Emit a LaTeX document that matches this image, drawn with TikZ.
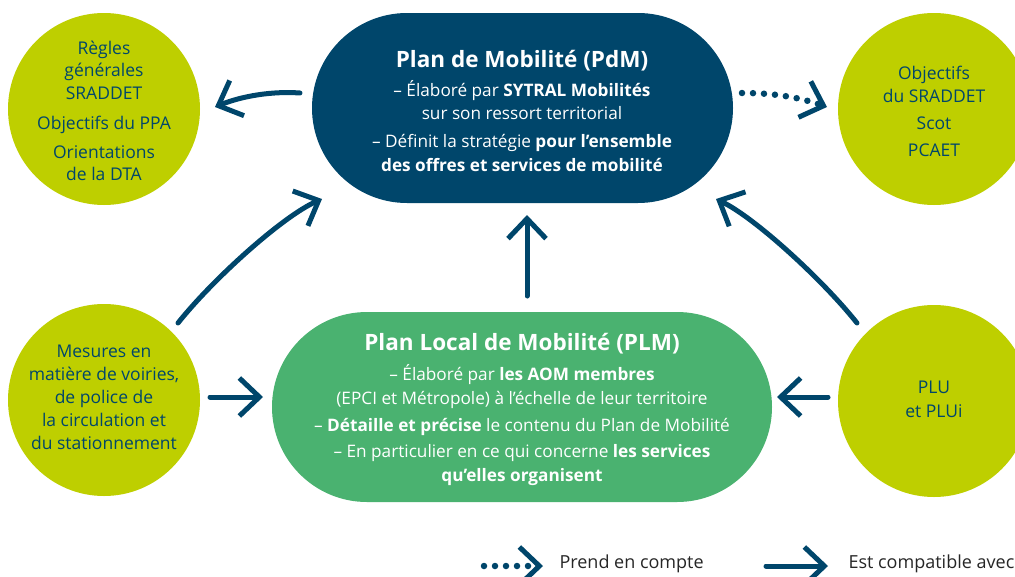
\documentclass[tikz,border=0pt]{standalone}
\usepackage{fontspec}
\setmainfont{Open Sans}
\usetikzlibrary{arrows.meta,shapes.misc}
\definecolor{navy}{RGB}{0,70,107}
\definecolor{lime}{RGB}{190,207,0}
\definecolor{pgreen}{RGB}{74,178,112}
\begin{document}
\begin{tikzpicture}[x=1pt,y=-1pt,
  circ/.style={circle, fill=lime, minimum size=192pt, inner sep=0pt},
  ctext/.style={text=navy, align=center, font=\fontsize{17.5}{22.5}\selectfont},
  pill/.style={rounded rectangle, minimum height=190pt, inner sep=0pt},
  ptext/.style={text=white, align=center, font=\fontsize{17.2}{23.5}\selectfont},
  ttlfont/.style={},
  arr/.style={draw=navy, line width=5pt, line cap=round,
    -{Straight Barb[length=20pt,width=38pt,line width=5pt,line cap=butt,line join=miter]}},
  dotarr/.style={arr, line width=6.5pt, dash pattern=on 0pt off 11pt},
  legtext/.style={anchor=west, text=black!85, font=\fontsize{18}{20}\selectfont}
]
\useasboundingbox (0,0) rectangle (1015,576);
\clip (0,0) rectangle (1015,576);

% shapes
\node[circ] (tl) at (104,109) {};
\node[circ] (tr) at (934,109) {};
\node[circ] (bl) at (104,400) {};
\node[circ] (br) at (934,401) {};
\node[pill, fill=navy, minimum width=421pt] (pdm) at (522.5,108) {};
\node[pill, fill=pgreen, minimum width=500pt] (plm) at (522,407) {};

% circle texts
\node[ctext] (tlt) at (tl.center) [yshift=-2pt] {Règles\\générales\\SRADDET\\[8pt]Objectifs du PPA\\[6pt]Orientations\\de la DTA};
\node[ctext] (trt) at (tr.center) [yshift=-2.5pt] {Objectifs\\du SRADDET\\[4.5pt]Scot\\[4.5pt]PCAET};
\node[ctext, font=\fontsize{17.5}{23}\selectfont] (blt) at (bl.center) [yshift=3pt] {Mesures en\\matière de voiries,\\de police de\\la circulation et\\du stationnement};
\node[ctext, font=\fontsize{17.5}{24}\selectfont] (brt) at (br.center) [yshift=2pt] {PLU\\et PLUi};

% pill texts
\node[ptext] (pdmt) at (522,111) {{\fontsize{22.5}{24}\selectfont\bfseries Plan de Mobilité (PdM)}\\[5pt]
  – Élaboré par \textbf{SYTRAL Mobilités}\\
  sur son ressort territorial\\[4.5pt]
  – Définit la stratégie \textbf{pour l’ensemble}\\
  \textbf{des offres et services de mobilité}};
\node[ptext] (plmt) at (522,409.5) {{\fontsize{22.5}{24}\selectfont\bfseries Plan Local de Mobilité (PLM)}\\[6.5pt]
  – Élaboré par \textbf{les AOM membres}\\
  (EPCI et Métropole) à l’échelle de leur territoire\\[3.5pt]
  – \textbf{Détaille et précise} le contenu du Plan de Mobilité\\[3pt]
  – En particulier en ce qui concerne \textbf{les services}\\
  \textbf{qu’elles organisent}};

% connector end points
\coordinate (a1s) at (300,93);   \coordinate (a1e) at (215,107);
\coordinate (a2s) at (742,93);   \coordinate (a2e) at (827,107);
\coordinate (a3s) at (178,323);  \coordinate (a3e) at (322,199);
\coordinate (a4s) at (857,323);  \coordinate (a4e) at (716,199);
\coordinate (a5s) at (527,296);  \coordinate (a5e) at (527,215);
\coordinate (a6s) at (210,397);  \coordinate (a6e) at (263,397);
\coordinate (a7s) at (828,397);  \coordinate (a7e) at (777,397);

% connectors
\draw[arr] (a1s) .. controls (272,91) and (242,96) .. (a1e);
\draw[dotarr] (a2s) .. controls (770,93) and (795,96) .. (a2e);
\draw[arr] (a3s) .. controls (213,279) and (283,216) .. (a3e);
\draw[arr] (a4s) .. controls (822,279) and (754,217) .. (a4e);
\draw[arr] (a5s) -- (a5e);
\draw[arr] (a6s) -- (a6e);
\draw[arr] (a7s) -- (a7e);

% legend
\coordinate (l1s) at (484,566); \coordinate (l1e) at (543,566);
\coordinate (l2s) at (766,566); \coordinate (l2e) at (828,566);
\draw[dotarr] (l1s) -- (l1e);
\draw[arr] (l2s) -- (l2e);
\node[legtext] (lt1) at (556,564) {Prend en compte};
\node[legtext] (lt2) at (845,564) {Est compatible avec};
\end{tikzpicture}
\end{document}
